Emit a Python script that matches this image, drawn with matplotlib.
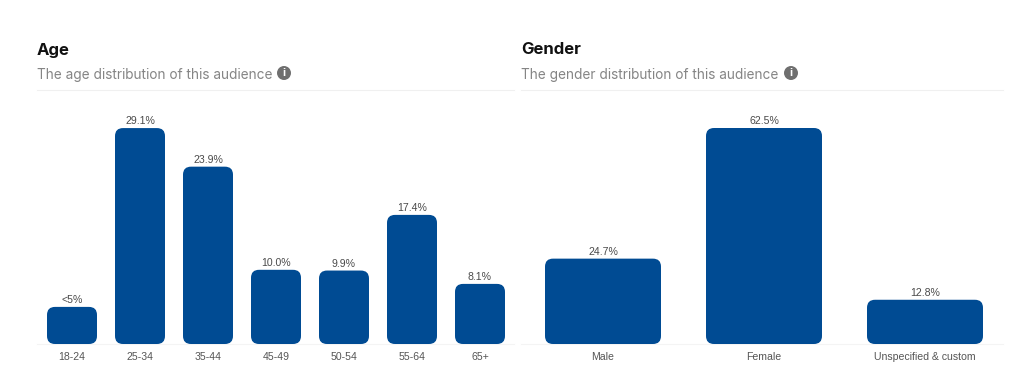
import matplotlib
matplotlib.use('Agg')
import matplotlib.pyplot as plt
from matplotlib.patches import FancyBboxPatch, Circle

age_labels = ['18-24', '25-34', '35-44', '45-49', '50-54', '55-64', '65+']
age_values = [5.0, 29.1, 23.9, 10.0, 9.9, 17.4, 8.1]
age_text = ['<5%', '29.1%', '23.9%', '10.0%', '9.9%', '17.4%', '8.1%']

gender_labels = ['Male', 'Female', 'Unspecified & custom']
gender_values = [24.7, 62.5, 12.8]
gender_text = ['24.7%', '62.5%', '12.8%']

W, H = 1024, 385
BLUE = '#004b93'
plt.rcParams['font.family'] = ['Liberation Sans', 'DejaVu Sans']

fig = plt.figure(figsize=(W / 100, H / 100), dpi=100, facecolor='white')


def panel(left, right, first_c, step, bar_w, labels, values, texts, px_per_unit):
    top, base = 90, 344
    ax = fig.add_axes([left / W, 1 - base / H, (right - left) / W, (base - top) / H])
    ax.set_xlim((left - first_c) / step, (right - first_c) / step)
    ax.set_ylim(0, (base - top) / px_per_unit)
    bars = ax.bar(range(len(values)), values, width=bar_w / step, color='none')
    radius = 8
    for b, t in zip(bars, texts):
        ax.add_patch(FancyBboxPatch((b.get_x(), 0), b.get_width(), b.get_height(),
                                    boxstyle='round,pad=0,rounding_size=%f' % (radius / step),
                                    mutation_aspect=step / px_per_unit,
                                    fc=BLUE, ec='none', zorder=3))
        ax.annotate(t, (b.get_x() + b.get_width() / 2, b.get_height()), xytext=(0, 1.2),
                    textcoords='offset points', ha='center', va='bottom',
                    fontsize=7.6, color='#4a4a4a')
    ax.set_xticks(range(len(labels)))
    ax.set_xticklabels(labels, fontsize=7.6, color='#555555')
    ax.tick_params(axis='x', length=0, pad=5.5)
    ax.set_yticks([])
    for s in ['top', 'left', 'right']:
        ax.spines[s].set_visible(False)
    ax.spines['bottom'].set_color('#f4f4f4')
    ax.spines['bottom'].set_linewidth(0.8)
    return ax


def header(x, right, title, sub, icon_x):
    fig.text(x / W, 1 - 50 / H, title, fontsize=12, fontweight='bold', color='#111111',
             va='center', family=['Inter', 'DejaVu Sans'])
    fig.text(x / W, 1 - 74.5 / H, sub, fontsize=9.82, color='#858585', va='center',
             family=['Inter', 'DejaVu Sans'])
    fig.add_artist(plt.Line2D([x / W, right / W], [1 - 89.5 / H] * 2, color='#f0f0f0', lw=0.8))
    fig.add_artist(Circle((icon_x, H - 73), 7, transform=None, fc='#6f6f6f', ec='none'))
    fig.text(icon_x / W, 1 - 73 / H, 'i', fontsize=8, fontweight='bold', color='white',
             ha='center', va='center')


panel(37, 514, 72, 68, 50, age_labels, age_values, age_text, 7.42)
panel(521, 1003, 603, 161, 116, gender_labels, gender_values, gender_text, 3.456)
header(37, 514, 'Age', 'The age distribution of this audience', 284)
header(521, 1003, 'Gender', 'The gender distribution of this audience', 791)

fig.savefig('out.png', dpi=100)
